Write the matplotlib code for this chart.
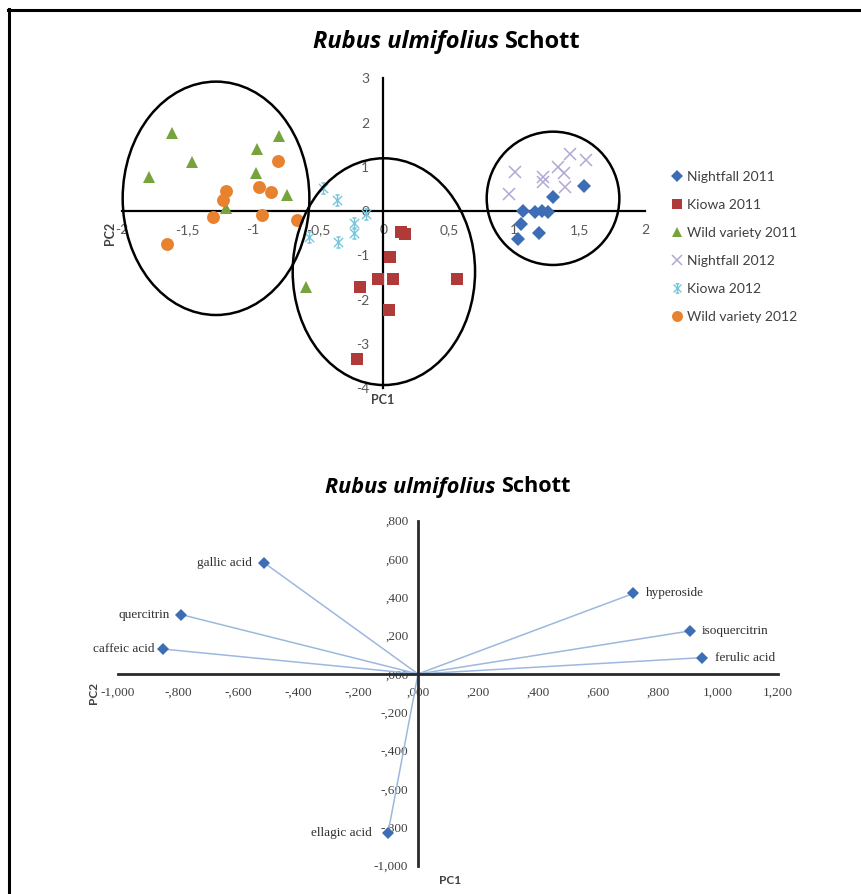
import matplotlib
matplotlib.use("Agg")
import matplotlib.pyplot as plt
import numpy as np
from matplotlib.patches import Ellipse
from matplotlib.path import Path
from matplotlib.lines import Line2D

# ---------------- data: top score plot ----------------
series_names = ["Nightfall 2011", "Kiowa 2011", "Wild variety 2011",
                "Nightfall 2012", "Kiowa 2012", "Wild variety 2012"]

nf11_x = [1.537, 1.300, 1.070, 1.160, 1.211, 1.257, 1.053, 1.190, 1.032]
nf11_y = [0.569, 0.327, 0.011, -0.025, 0.011, -0.011, -0.289, -0.485, -0.634]

ki11_x = [0.135, 0.165, 0.051, -0.038, 0.076, 0.561, -0.178, 0.046, -0.203]
ki11_y = [-0.47, -0.52, -1.041, -1.531, -1.531, -1.538, -1.718, -2.231, -3.344]

wv11_x = [-1.618, -0.795, -0.968, -1.465, -1.789, -0.976, -0.739, -1.205, -0.591]
wv11_y = [1.759, 1.698, 1.398, 1.118, 0.765, 0.869, 0.366, 0.065, -1.705]

nf12_x = [1.427, 1.550, 1.338, 1.007, 1.384, 1.223, 1.219, 1.389, 0.963]
nf12_y = [1.291, 1.156, 1.005, 0.892, 0.856, 0.765, 0.666, 0.553, 0.388]

ki12_x = [-0.459, -0.352, -0.132, -0.224, -0.224, -0.344, -0.566]
ki12_y = [0.517, 0.253, -0.063, -0.273, -0.499, -0.689, -0.576]

wv12_x = [-0.803, -1.203, -1.228, -0.953, -0.859, -1.300, -0.927, -0.662, -1.651]
wv12_y = [1.140, 0.456, 0.253, 0.553, 0.440, -0.138, -0.093, -0.199, -0.747]

# group ellipses: centre x, centre y, width, height
ell_cx = [-1.279, 0.004, 1.297]
ell_cy = [0.29, -1.366, 0.29]
ell_w = [1.427, 1.394, 1.014]
ell_h = [5.27, 5.12, 3.01]

top_xticks = [-2, -1.5, -1, -0.5, 0, 0.5, 1, 1.5, 2]
top_yticks = [-4, -3, -2, -1, 0, 1, 2, 3]

# ---------------- data: bottom loading plot ----------------
load_names = ["gallic acid", "quercitrin", "caffeic acid", "hyperoside",
              "isoquercitrin", "ferulic acid", "ellagic acid"]
load_x = [-0.513, -0.790, -0.850, 0.718, 0.905, 0.945, -0.100]
load_y = [0.580, 0.310, 0.130, 0.420, 0.224, 0.085, -0.830]

bot_xticks = [-1.0, -0.8, -0.6, -0.4, -0.2, 0.0, 0.2, 0.4, 0.6, 0.8, 1.0, 1.2]
bot_yticks = [-1.0, -0.8, -0.6, -0.4, -0.2, 0.0, 0.2, 0.4, 0.6, 0.8]

# ---------------- figure ----------------
W, H = 861, 894
fig = plt.figure(figsize=(W / 100, H / 100), dpi=100)
SANS = ["Lato", "DejaVu Sans"]
TITLE = ["Open Sans", "DejaVu Sans"]
SERIF = ["Liberation Serif", "DejaVu Serif"]

# outer frame (top and left edges)
fig.add_artist(Line2D([8 / W, 1.0], [1 - 10 / H, 1 - 10 / H], color="black", lw=2.2))
fig.add_artist(Line2D([9 / W, 9 / W], [0, 1 - 9 / H], color="black", lw=2.2))


def mixed_title(cx, cy, fs):
    r = fig.canvas.get_renderer()
    t1 = fig.text(0, 0, "Rubus ulmifolius", style="italic", weight="bold",
                  fontsize=fs, family=TITLE, va="center", ha="left")
    t2 = fig.text(0, 0, "Schott", weight="bold", fontsize=fs, family=TITLE,
                  va="center", ha="left")
    w1 = t1.get_window_extent(r).width
    w2 = t2.get_window_extent(r).width
    gap = fs * 0.26 * 100 / 72
    left = cx - (w1 + gap + w2) / 2
    t1.set_position((left / W, 1 - cy / H))
    t2.set_position(((left + w1 + gap) / W, 1 - cy / H))


# ---------------- top axes ----------------
ax1 = fig.add_axes([121.7 / W, 1 - 388.3 / H, 523.3 / W, 310 / H])
ax1.set_xlim(-2, 2)
ax1.set_ylim(-4, 3)
for s in ["top", "right"]:
    ax1.spines[s].set_visible(False)
ax1.spines["left"].set_position(("data", 0))
ax1.spines["bottom"].set_position(("data", 0))
for s in ["left", "bottom"]:
    ax1.spines[s].set_linewidth(1.6)
    ax1.spines[s].set_color("black")
ax1.set_xticks(top_xticks)
ax1.set_xticklabels([("%g" % v).replace(".", ",") for v in top_xticks])
ax1.set_yticks(top_yticks)
ax1.set_yticklabels(["%g" % v for v in top_yticks])
ax1.tick_params(axis="x", length=0, pad=9, labelsize=10, labelcolor="#595959")
ax1.tick_params(axis="y", length=0, pad=10, labelsize=10, labelcolor="#595959")
for lab in ax1.get_xticklabels() + ax1.get_yticklabels():
    lab.set_family(SANS)
ax1.patch.set_alpha(0)

star = Path([(-1, -1), (1, 1), (-1, 1), (1, -1), (0, -1.2), (0, 1.2),
             (-0.45, -1.2), (0.45, -1.2), (-0.45, 1.2), (0.45, 1.2)],
            [Path.MOVETO, Path.LINETO] * 5)

styles = [
    dict(marker="D", color="#3D6DB5", ms=7, mew=0),
    dict(marker="s", color="#B03A3A", ms=8.8, mew=0),
    dict(marker="^", color="#76A33C", ms=9.3, mew=0),
    dict(marker="x", color="#B4A7D6", ms=8.3, mew=1.1),
    dict(marker=star, color="#79C6DA", ms=8, mew=1.0),
    dict(marker="o", color="#E8822F", ms=9.3, mew=0),
]
data_xy = [(nf11_x, nf11_y), (ki11_x, ki11_y), (wv11_x, wv11_y),
           (nf12_x, nf12_y), (ki12_x, ki12_y), (wv12_x, wv12_y)]
handles = []
for name, (xs, ys), st in zip(series_names, data_xy, styles):
    h, = ax1.plot(xs, ys, linestyle="none", marker=st["marker"], color=st["color"],
                  markersize=st["ms"], markeredgewidth=st["mew"], label=name,
                  clip_on=False, zorder=3)
    handles.append(h)

for cx, cy, w, h in zip(ell_cx, ell_cy, ell_w, ell_h):
    ax1.add_patch(Ellipse((cx, cy), w, h, fill=False, edgecolor="black",
                          lw=1.8, clip_on=False, zorder=4))

leg = fig.legend(handles=handles, loc="upper left",
                 bbox_to_anchor=(671 / W, 1 - 171 / H), frameon=False,
                 handlelength=0.8, handletextpad=0.35,
                 labelspacing=1.15, borderpad=0, borderaxespad=0,
                 prop={"family": SANS, "size": 10}, markerscale=0.85)
for t in leg.get_texts():
    t.set_color("#404040")

fig.text(110 / W, 1 - 233 / H, "PC2", rotation=90, weight="bold", fontsize=9,
         family=SANS, ha="center", va="center", color="#404040")
fig.text(383 / W, 1 - 400 / H, "PC1", weight="bold", fontsize=9,
         family=SANS, ha="center", va="center", color="#404040")

mixed_title(446.7, 41.7, 17)

# ---------------- bottom axes ----------------
ax2 = fig.add_axes([118 / W, 1 - 865.7 / H, 660 / W, 345.1 / H])
ax2.set_xlim(-1.0, 1.2)
ax2.set_ylim(-1.0, 0.8)
for s in ["top", "right"]:
    ax2.spines[s].set_visible(False)
ax2.spines["left"].set_position(("data", 0))
ax2.spines["bottom"].set_position(("data", 0))
for s in ["left", "bottom"]:
    ax2.spines[s].set_linewidth(2.0)
    ax2.spines[s].set_color("#2a2a2a")


def fmt(v):
    v = round(v, 3) + 0.0
    s = ("%.3f" % v).replace(".", ",")
    if s.startswith("0,"):
        s = s[1:]
    elif s.startswith("-0,"):
        s = "-" + s[2:]
    return s


ax2.set_xticks(bot_xticks)
ax2.set_xticklabels([fmt(v) for v in bot_xticks])
ax2.set_yticks(bot_yticks)
ax2.set_yticklabels([fmt(v) for v in bot_yticks])
ax2.tick_params(axis="x", length=0, pad=9, labelsize=9.5, labelcolor="#404040")
ax2.tick_params(axis="y", length=0, pad=7, labelsize=9.5, labelcolor="#404040")
for lab in ax2.get_xticklabels() + ax2.get_yticklabels():
    lab.set_family(SERIF)
ax2.patch.set_alpha(0)

for x, y in zip(load_x, load_y):
    ax2.plot([0, x], [0, y], color="#9DB8DE", lw=1.1, zorder=2)
ax2.plot(load_x, load_y, linestyle="none", marker="D", color="#3D6DB5",
         markersize=6.3, markeredgewidth=0, zorder=3, clip_on=False)

offsets = {"gallic acid": -9, "quercitrin": -8, "caffeic acid": -6,
           "hyperoside": 9, "isoquercitrin": 9, "ferulic acid": 10,
           "ellagic acid": -12}
for name, x, y in zip(load_names, load_x, load_y):
    dx = offsets[name]
    ax2.annotate(name, (x, y), xytext=(dx, 0), textcoords="offset points",
                 ha="right" if dx < 0 else "left", va="center",
                 fontsize=9.5, family=SERIF, color="#303030", zorder=5)

fig.text(93 / W, 1 - 693 / H, "PC2", rotation=90, weight="bold", fontsize=8.5,
         family=SANS, ha="center", va="center", color="#404040")
fig.text(450 / W, 1 - 880 / H, "PC1", weight="bold", fontsize=8.5,
         family=SANS, ha="center", va="center", color="#404040")

mixed_title(448, 487, 15.6)

fig.savefig("out.png", dpi=100)
